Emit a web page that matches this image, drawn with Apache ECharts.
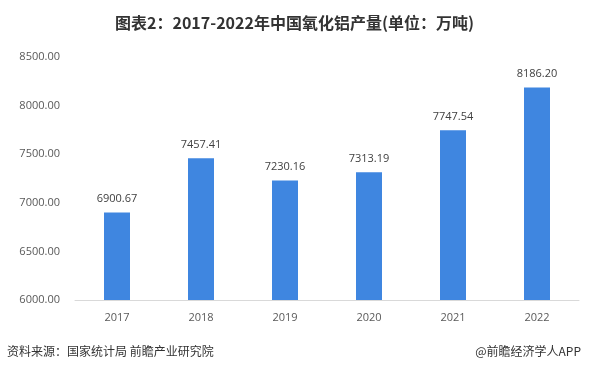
<!DOCTYPE html>
<html><head><meta charset="utf-8">
<script src="https://cdn.jsdelivr.net/npm/echarts@6/dist/echarts.min.js"></script>
<style>html,body{margin:0;padding:0;background:#fff}#c{width:589px;height:374px}</style>
</head><body><div id="c"></div>
<script>
const categories = ['2017','2018','2019','2020','2021','2022'];
const values = [6900.67, 7457.41, 7230.16, 7313.19, 7747.54, 8186.20];
const yTicks = [6000, 6500, 7000, 7500, 8000, 8500];

const chart = echarts.init(document.getElementById('c'));
chart.setOption({
  backgroundColor: '#fff',
  animation: false,
  title: {
    text: '图表2：2017-2022年中国氧化铝产量(单位：万吨)',
    left: 'center', top: 10,
    textStyle: {fontSize: 16, fontWeight: 'bold', color: '#333', fontFamily: 'Noto Sans CJK SC'}
  },
  graphic: [
    {type: 'text', left: 7, top: 345, style: {text: '资料来源：国家统计局 前瞻产业研究院', fontSize: 12, fill: '#333', fontFamily: 'Noto Sans CJK SC'}},
    {type: 'text', right: 8, top: 345, style: {text: '@前瞻经济学人APP', fontSize: 12, fill: '#333', fontFamily: 'Noto Sans CJK SC'}}
  ],
  grid: {left: 75, right: 10, top: 57, bottom: 74},
  xAxis: {
    type: 'category', data: categories,
    axisLine: {lineStyle: {color: '#d9d9d9'}},
    axisTick: {show: false},
    axisLabel: {color: '#595959', fontSize: 11, margin: 12, fontFamily: 'Open Sans'}
  },
  yAxis: {
    type: 'value', min: yTicks[0], max: yTicks[yTicks.length-1], interval: 500,
    axisLine: {show: false}, axisTick: {show: false}, splitLine: {show: false},
    axisLabel: {color: '#595959', fontSize: 11, margin: 15, fontFamily: 'Open Sans', formatter: v => v.toFixed(2)}
  },
  series: [{
    type: 'bar', data: values, barWidth: 26,
    itemStyle: {color: '#3f86e0'},
    label: {show: true, position: 'top', distance: 8, color: '#404040', fontSize: 11, fontFamily: 'Open Sans', formatter: p => p.value.toFixed(2)}
  }]
});
</script></body></html>
